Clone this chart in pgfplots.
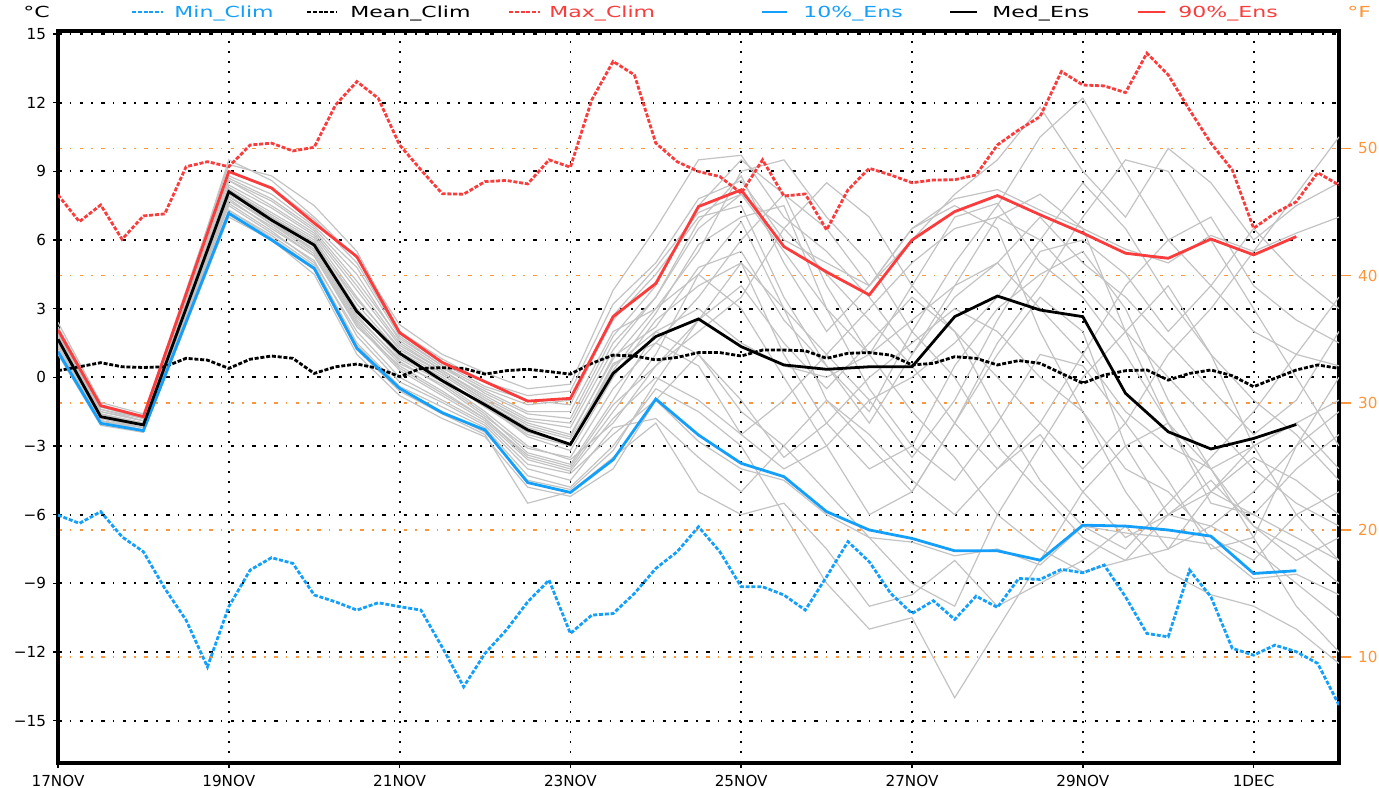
\documentclass[border=0pt]{standalone}
\usepackage{fontspec}
\setmainfont{DejaVu Sans}
\newfontfamily\legfont[FakeStretch=1.45]{DejaVu Sans}
\usepackage{pgfplots}
\pgfplotsset{compat=1.18}
\definecolor{cblue}{RGB}{20,160,250}
\definecolor{cred}{RGB}{250,60,60}
\definecolor{corange}{RGB}{250,150,60}
\definecolor{cgray}{RGB}{195,195,195}
\tikzset{
 ens/.style={cgray, line width=0.6pt},
 clim/.style={line width=1.4pt, dash pattern=on 2pt off 0.9pt},
 pct/.style={line width=1.4pt},
}
\begin{document}
\begin{tikzpicture}
% Fahrenheit axis (background: orange grid, right ticks)
\begin{axis}[at={(0pt,0pt)}, anchor=south west, scale only axis,
 width=640.5pt, height=366pt,
 xmin=0, xmax=15, ymin=1.666, ymax=59.234,
 axis x line=none, axis y line*=right, y axis line style={draw=none},
 ytick={10,20,30,40,50}, ymajorgrids,
 every axis y grid/.append style={corange, line width=0.8pt, dash pattern=on 1.8pt off 4pt on 0.8pt off 4.2pt},
 tick align=outside, major tick length=6pt,
 ytick style={corange, line width=0.8pt},
 yticklabel style={corange, font=\fontsize{7.6}{9}\selectfont},
 /pgf/number format/assume math mode=true,
]
\addplot[draw=none] coordinates {(0,30)};
\end{axis}
% Celsius axis with data
\begin{axis}[at={(0pt,0pt)}, anchor=south west, scale only axis,
 width=640.5pt, height=366pt,
 xmin=0, xmax=15, ymin=-16.85, ymax=15.13,
 axis line style={line width=1.6pt},
 xtick={0,2,...,14}, xticklabels={17NOV,19NOV,21NOV,23NOV,25NOV,27NOV,29NOV,1DEC},
 ytick={-15,-12,...,15}, yticklabels={−15,−12,−9,−6,−3,0,3,6,9,12,15},
 tick pos=left, tick align=outside, major tick length=2.5pt,
 tick style={black, line width=0.8pt},
 xmajorgrids, ymajorgrids,
 every axis x grid/.append style={black, line width=0.9pt, dash pattern=on 0.8pt off 4.2pt},
 every axis y grid/.append style={black, line width=0.9pt, dash pattern=on 1.8pt off 4pt on 0.8pt off 4.2pt},
 ticklabel style={font=\fontsize{7.6}{9}\selectfont},
]
% ensemble members
\addplot[ens] coordinates {(0,1.7)(0.5,-1.7)(1,-2.1)(1.5,3.0)(2,8.2)(2.5,7.0)(3,5.9)(3.5,3.0)(4,1.0)(4.5,0.0)(5,-1.3)(5.5,-2.5)(6,-3.0)(6.5,0.5)(7,2.0)(7.5,3.0)(8,1.5)(8.5,0.5)(9,0.0)(9.5,1.0)(10,2.5)(10.5,4.0)(11,5.0)(11.5,3.0)(12,1.0)(12.5,-1.5)(13,-3.0)(13.5,-4.0)(14,-3.0)(14.5,-2.0)(15,-1.0)};
\addplot[ens] coordinates {(0,2.2)(0.5,-1.2)(1,-1.7)(1.5,3.8)(2,9.3)(2.5,8.8)(3,7.5)(3.5,5.5)(4,2.0)(4.5,0.8)(5,-0.2)(5.5,-0.8)(6,-0.6)(6.5,3.2)(7,5.0)(7.5,7.8)(8,8.6)(8.5,6.0)(9,5.0)(9.5,4.0)(10,6.5)(10.5,7.8)(11,8.2)(11.5,7.3)(12,6.5)(12.5,5.6)(13,5.0)(13.5,6.2)(14,5.5)(14.5,6.3)(15,7.0)};
\addplot[ens] coordinates {(0,1.0)(0.5,-2.1)(1,-2.4)(1.5,2.3)(2,7.0)(2.5,6.0)(3,4.5)(3.5,1.0)(4,-0.8)(4.5,-1.8)(5,-2.6)(5.5,-4.8)(6,-5.2)(6.5,-4.0)(7,-1.0)(7.5,-2.8)(8,-4.0)(8.5,-4.5)(9,-6.0)(9.5,-7.0)(10,-7.2)(10.5,-7.8)(11,-7.5)(11.5,-8.2)(12,-6.5)(12.5,-6.8)(13,-7.0)(13.5,-7.3)(14,-8.8)(14.5,-8.6)(15,-9.5)};
\addplot[ens] coordinates {(0,1.5)(0.5,-1.9)(1,-2.2)(1.5,2.8)(2,7.8)(2.5,6.5)(3,5.3)(3.5,2.2)(4,0.5)(4.5,-0.6)(5,-1.8)(5.5,-3.5)(6,-4.0)(6.5,-1.5)(7,1.0)(7.5,4.5)(8,6.8)(8.5,3.0)(9,-1.0)(9.5,-3.0)(10,-5.0)(10.5,-2.0)(11,1.0)(11.5,3.5)(12,2.0)(12.5,-3.0)(13,-6.0)(13.5,-5.0)(14,-3.5)(14.5,-4.5)(15,-6.0)};
\addplot[ens] coordinates {(0,1.9)(0.5,-1.5)(1,-1.9)(1.5,3.3)(2,8.6)(2.5,7.5)(3,6.3)(3.5,4.0)(4,1.5)(4.5,0.3)(5,-0.8)(5.5,-1.8)(6,-2.0)(6.5,1.5)(7,3.5)(7.5,6.5)(8,8.0)(8.5,5.5)(9,3.0)(9.5,1.0)(10,4.0)(10.5,7.0)(11,7.6)(11.5,5.0)(12,3.5)(12.5,1.0)(13,-2.0)(13.5,-5.0)(14,-6.0)(14.5,-4.0)(15,-2.5)};
\addplot[ens] coordinates {(0,1.4)(0.5,-1.8)(1,-2.2)(1.5,2.9)(2,7.9)(2.5,6.8)(3,5.6)(3.5,2.6)(4,0.8)(4.5,-0.2)(5,-1.5)(5.5,-3.0)(6,-3.6)(6.5,-2.0)(7,0.5)(7.5,2.0)(8,3.5)(8.5,6.5)(9,8.5)(9.5,7.0)(10,4.0)(10.5,2.0)(11,0.0)(11.5,-2.0)(12,-4.0)(12.5,-2.0)(13,1.0)(13.5,3.0)(14,5.5)(14.5,8.0)(15,10.5)};
\addplot[ens] coordinates {(0,1.6)(0.5,-1.7)(1,-2.0)(1.5,3.1)(2,8.3)(2.5,7.2)(3,6.1)(3.5,3.5)(4,1.2)(4.5,0.2)(5,-1.0)(5.5,-2.0)(6,-2.5)(6.5,0.8)(7,3.0)(7.5,5.5)(8,9.0)(8.5,9.5)(9,7.0)(9.5,5.0)(10,2.0)(10.5,0.0)(11,-3.0)(11.5,-5.0)(12,-7.0)(12.5,-8.0)(13,-7.5)(13.5,-5.0)(14,-3.0)(14.5,-2.0)(15,-4.0)};
\addplot[ens] coordinates {(0,1.2)(0.5,-2.0)(1,-2.3)(1.5,2.5)(2,7.3)(2.5,6.2)(3,4.9)(3.5,1.5)(4,-0.4)(4.5,-1.3)(5,-2.2)(5.5,-4.3)(6,-4.8)(6.5,-3.0)(7,-0.5)(7.5,-1.5)(8,-3.0)(8.5,-6.0)(9,-9.0)(9.5,-11.0)(10,-10.5)(10.5,-14.0)(11,-11.0)(11.5,-8.0)(12,-5.0)(12.5,-3.0)(13,-2.0)(13.5,-4.0)(14,-7.0)(14.5,-10.0)(15,-12.0)};
\addplot[ens] coordinates {(0,2.0)(0.5,-1.4)(1,-1.8)(1.5,3.5)(2,8.8)(2.5,8.0)(3,6.6)(3.5,4.8)(4,1.8)(4.5,0.5)(5,-0.5)(5.5,-1.2)(6,-1.0)(6.5,2.5)(7,4.5)(7.5,7.0)(8,7.5)(8.5,3.5)(9,0.5)(9.5,-1.5)(10,2.0)(10.5,5.0)(11,7.5)(11.5,10.5)(12,12.2)(12.5,9.0)(13,6.0)(13.5,4.0)(14,2.0)(14.5,1.0)(15,0.5)};
\addplot[ens] coordinates {(0,1.7)(0.5,-1.6)(1,-2.1)(1.5,3.0)(2,8.0)(2.5,6.9)(3,5.7)(3.5,2.9)(4,0.9)(4.5,-0.1)(5,-1.2)(5.5,-2.6)(6,-3.2)(6.5,0.0)(7,2.5)(7.5,4.0)(8,5.0)(8.5,1.0)(9,-2.0)(9.5,-4.0)(10,-3.0)(10.5,0.5)(11,3.0)(11.5,4.5)(12,5.5)(12.5,3.0)(13,-1.0)(13.5,-4.0)(14,-6.5)(14.5,-7.5)(15,-9.0)};
\addplot[ens] coordinates {(0,1.3)(0.5,-1.9)(1,-2.3)(1.5,2.7)(2,7.6)(2.5,6.4)(3,5.0)(3.5,2.0)(4,0.0)(4.5,-1.0)(5,-2.0)(5.5,-3.8)(6,-4.2)(6.5,-2.5)(7,-1.0)(7.5,1.0)(8,-1.0)(8.5,-3.5)(9,-2.0)(9.5,0.0)(10,1.5)(10.5,3.0)(11,2.0)(11.5,0.0)(12,-1.5)(12.5,-4.0)(13,-5.0)(13.5,-7.0)(14,-8.0)(14.5,-6.0)(15,-5.0)};
\addplot[ens] coordinates {(0,1.8)(0.5,-1.6)(1,-2.0)(1.5,3.2)(2,8.4)(2.5,7.4)(3,6.2)(3.5,3.8)(4,1.4)(4.5,0.3)(5,-0.9)(5.5,-1.9)(6,-2.2)(6.5,1.2)(7,3.5)(7.5,6.8)(8,8.8)(8.5,5.0)(9,2.0)(9.5,4.0)(10,6.0)(10.5,8.0)(11,9.5)(11.5,11.8)(12,9.0)(12.5,7.0)(13,10.0)(13.5,8.5)(14,6.0)(14.5,7.5)(15,8.5)};
\addplot[ens] coordinates {(0,1.6)(0.5,-1.8)(1,-2.1)(1.5,2.9)(2,8.1)(2.5,6.8)(3,5.5)(3.5,2.5)(4,0.6)(4.5,-0.3)(5,-1.6)(5.5,-3.3)(6,-3.8)(6.5,-1.0)(7,2.0)(7.5,1.0)(8,-1.5)(8.5,-3.0)(9,-5.0)(9.5,-7.0)(10,-9.0)(10.5,-10.0)(11,-6.0)(11.5,-3.0)(12,0.0)(12.5,2.0)(13,4.0)(13.5,1.0)(14,-3.0)(14.5,-6.0)(15,-8.0)};
\addplot[ens] coordinates {(0,1.9)(0.5,-1.5)(1,-1.9)(1.5,3.4)(2,8.7)(2.5,7.8)(3,6.5)(3.5,4.5)(4,1.6)(4.5,0.4)(5,-0.6)(5.5,-1.5)(6,-1.5)(6.5,2.0)(7,3.0)(7.5,4.5)(8,3.0)(8.5,0.0)(9,-3.0)(9.5,-6.0)(10,-5.0)(10.5,-2.0)(11,1.5)(11.5,4.0)(12,7.0)(12.5,9.5)(13,9.0)(13.5,6.0)(14,3.0)(14.5,0.0)(15,-3.0)};
\addplot[ens] coordinates {(0,1.4)(0.5,-1.9)(1,-2.2)(1.5,2.7)(2,7.7)(2.5,6.6)(3,5.3)(3.5,2.3)(4,0.3)(4.5,-0.8)(5,-1.9)(5.5,-3.6)(6,-4.1)(6.5,-1.8)(7,0.0)(7.5,-1.0)(8,-2.5)(8.5,-1.0)(9,1.0)(9.5,3.0)(10,5.0)(10.5,6.5)(11,7.0)(11.5,6.0)(12,4.0)(12.5,2.0)(13,0.0)(13.5,-2.0)(14,-4.0)(14.5,-5.5)(15,-6.5)};
\addplot[ens] coordinates {(0,2.4)(0.5,-1.1)(1,-1.6)(1.5,3.6)(2,9.5)(2.5,8.6)(3,7.0)(3.5,5.2)(4,2.3)(4.5,1.0)(5,0.2)(5.5,-0.5)(6,-0.3)(6.5,3.8)(7,6.5)(7.5,9.5)(8,9.7)(8.5,7.0)(9,5.5)(9.5,3.5)(10,1.0)(10.5,4.0)(11,7.0)(11.5,8.0)(12,6.5)(12.5,2.0)(13,-2.0)(13.5,-5.5)(14,-6.0)(14.5,-7.0)(15,-8.0)};
\addplot[ens] coordinates {(0,1.5)(0.5,-1.8)(1,-2.2)(1.5,2.8)(2,7.9)(2.5,6.7)(3,5.6)(3.5,2.7)(4,0.7)(4.5,-0.4)(5,-1.7)(5.5,-3.1)(6,-3.5)(6.5,-0.5)(7,1.5)(7.5,3.5)(8,6.0)(8.5,8.0)(9,6.5)(9.5,4.0)(10,6.5)(10.5,7.5)(11,6.5)(11.5,2.0)(12,-1.5)(12.5,-5.0)(13,-7.5)(13.5,-6.5)(14,-5.0)(14.5,-3.0)(15,-1.5)};
\addplot[ens] coordinates {(0,1.1)(0.5,-2.0)(1,-2.4)(1.5,2.4)(2,7.1)(2.5,6.0)(3,4.7)(3.5,1.2)(4,-0.6)(4.5,-1.6)(5,-2.5)(5.5,-5.5)(6,-5.0)(6.5,-3.5)(7,-2.0)(7.5,-5.0)(8,-6.0)(8.5,-5.5)(9,-7.5)(9.5,-10.0)(10,-9.5)(10.5,-8.0)(11,-10.0)(11.5,-9.0)(12,-8.0)(12.5,-6.5)(13,-8.5)(13.5,-9.5)(14,-10.0)(14.5,-11.0)(15,-12.5)};
\addplot[ens] coordinates {(0,1.8)(0.5,-1.7)(1,-2.0)(1.5,3.1)(2,8.2)(2.5,7.1)(3,6.0)(3.5,3.2)(4,1.1)(4.5,0.1)(5,-1.1)(5.5,-2.2)(6,-2.7)(6.5,0.3)(7,2.8)(7.5,5.8)(8,7.0)(8.5,7.5)(9,3.0)(9.5,-0.5)(10,-3.0)(10.5,-4.5)(11,-2.0)(11.5,1.0)(12,0.5)(12.5,-2.0)(13,-4.5)(13.5,-7.5)(14,-7.0)(14.5,-3.0)(15,0.0)};
\addplot[ens] coordinates {(0,1.6)(0.5,-1.7)(1,-2.1)(1.5,3.0)(2,8.1)(2.5,7.0)(3,5.8)(3.5,3.0)(4,0.9)(4.5,-0.1)(5,-1.3)(5.5,-2.4)(6,-2.9)(6.5,0.6)(7,1.5)(7.5,0.5)(8,-2.5)(8.5,-4.0)(9,-3.0)(9.5,-1.0)(10,0.0)(10.5,1.5)(11,3.5)(11.5,6.0)(12,8.5)(12.5,6.5)(13,3.5)(13.5,1.0)(14,-1.0)(14.5,-2.5)(15,-4.5)};
\addplot[ens] coordinates {(0,2.1)(0.5,-1.3)(1,-1.8)(1.5,3.7)(2,9.0)(2.5,8.3)(3,6.9)(3.5,5.0)(4,1.9)(4.5,0.6)(5,-0.4)(5.5,-1.0)(6,-1.2)(6.5,2.7)(7,4.8)(7.5,7.2)(8,8.0)(8.5,6.5)(9,4.5)(9.5,2.5)(10,0.5)(10.5,-2.0)(11,-4.0)(11.5,-2.0)(12,1.0)(12.5,4.0)(13,6.0)(13.5,7.0)(14,4.0)(14.5,2.5)(15,1.5)};
\addplot[ens] coordinates {(0,1.3)(0.5,-1.9)(1,-2.3)(1.5,2.6)(2,7.5)(2.5,6.3)(3,5.1)(3.5,1.8)(4,-0.2)(4.5,-1.1)(5,-2.1)(5.5,-4.0)(6,-4.5)(6.5,-2.2)(7,-1.8)(7.5,-3.5)(8,-5.0)(8.5,-3.0)(9,-1.0)(9.5,-2.5)(10,-4.5)(10.5,-6.0)(11,-4.0)(11.5,-2.5)(12,-5.0)(12.5,-7.0)(13,-6.0)(13.5,-4.5)(14,-6.5)(14.5,-8.0)(15,-7.0)};
\addplot[ens] coordinates {(0,1.7)(0.5,-1.6)(1,-2.0)(1.5,3.0)(2,8.0)(2.5,7.0)(3,5.9)(3.5,3.4)(4,1.3)(4.5,0.2)(5,-1.0)(5.5,-2.1)(6,-2.6)(6.5,0.9)(7,2.2)(7.5,4.8)(8,5.5)(8.5,2.5)(9,0.5)(9.5,-2.0)(10,1.0)(10.5,3.5)(11,5.0)(11.5,7.0)(12,5.0)(12.5,3.5)(13,1.5)(13.5,-0.5)(14,-2.5)(14.5,-1.0)(15,2.0)};
\addplot[ens] coordinates {(0,1.5)(0.5,-1.8)(1,-2.1)(1.5,2.9)(2,7.9)(2.5,6.7)(3,5.4)(3.5,2.4)(4,0.4)(4.5,-0.7)(5,-1.8)(5.5,-3.4)(6,-3.9)(6.5,-1.2)(7,0.5)(7.5,2.5)(8,4.0)(8.5,1.5)(9,-0.5)(9.5,1.5)(10,3.5)(10.5,2.0)(11,-1.5)(11.5,-4.5)(12,-6.5)(12.5,-7.5)(13,-5.5)(13.5,-3.5)(14,-1.5)(14.5,1.0)(15,3.5)};
\addplot[ens] coordinates {(0,1.9)(0.5,-1.4)(1,-1.9)(1.5,3.4)(2,8.6)(2.5,7.7)(3,6.4)(3.5,4.2)(4,1.7)(4.5,0.5)(5,-0.7)(5.5,-1.6)(6,-1.8)(6.5,1.8)(7,4.0)(7.5,7.5)(8,9.5)(8.5,8.0)(9,4.0)(9.5,1.0)(10,-1.5)(10.5,-3.5)(11,-6.0)(11.5,-7.5)(12,-8.5)(12.5,-8.0)(13,-6.0)(13.5,-6.5)(14,-7.5)(14.5,-9.0)(15,-10.5)};
\addplot[ens] coordinates {(0,1.2)(0.5,-2.0)(1,-2.3)(1.5,2.5)(2,7.3)(2.5,6.1)(3,4.8)(3.5,1.4)(4,-0.5)(4.5,-1.5)(5,-2.4)(5.5,-4.5)(6,-4.9)(6.5,-3.2)(7,-0.2)(7.5,2.5)(8,5.0)(8.5,3.0)(9,1.0)(9.5,-1.0)(10,-3.5)(10.5,-1.0)(11,2.5)(11.5,5.5)(12,6.0)(12.5,4.5)(13,2.0)(13.5,4.0)(14,6.5)(14.5,4.5)(15,3.0)};
% climatology (6-hourly)
\addplot[cred, clim] coordinates {(0,7.97)(0.25,6.8)(0.5,7.53)(0.75,6.03)(1,7.05)(1.25,7.14)(1.5,9.2)(1.75,9.42)(2,9.2)(2.25,10.15)(2.5,10.23)(2.75,9.89)(3,10.05)(3.25,11.9)(3.5,12.92)(3.75,12.19)(4,10.15)(4.25,9.06)(4.5,8.02)(4.75,8.0)(5,8.55)(5.25,8.6)(5.5,8.45)(5.75,9.5)(6,9.18)(6.25,12.12)(6.5,13.8)(6.75,13.21)(7,10.23)(7.25,9.42)(7.5,8.99)(7.75,8.77)(8,8.04)(8.25,9.5)(8.5,7.92)(8.75,8.01)(9,6.44)(9.25,8.19)(9.5,9.13)(9.75,8.84)(10,8.5)(10.25,8.62)(10.5,8.63)(10.75,8.84)(11,10.15)(11.25,10.81)(11.5,11.39)(11.75,13.36)(12,12.77)(12.25,12.73)(12.5,12.44)(12.75,14.16)(13,13.21)(13.25,11.68)(13.5,10.23)(13.75,9.06)(14,6.51)(14.25,7.17)(14.5,7.67)(14.75,8.94)(15,8.4)};
\addplot[black, clim] coordinates {(0,0.29)(0.25,0.46)(0.5,0.64)(0.75,0.46)(1,0.43)(1.25,0.46)(1.5,0.83)(1.75,0.75)(2,0.39)(2.25,0.79)(2.5,0.93)(2.75,0.83)(3,0.17)(3.25,0.46)(3.5,0.58)(3.75,0.39)(4,0.03)(4.25,0.39)(4.5,0.42)(4.75,0.39)(5,0.14)(5.25,0.29)(5.5,0.35)(5.75,0.25)(6,0.14)(6.25,0.61)(6.5,0.97)(6.75,0.93)(7,0.76)(7.25,0.87)(7.5,1.08)(7.75,1.08)(8,0.93)(8.25,1.19)(8.5,1.19)(8.75,1.16)(9,0.83)(9.25,1.05)(9.5,1.08)(9.75,0.97)(10,0.54)(10.25,0.61)(10.5,0.9)(10.75,0.83)(11,0.54)(11.25,0.73)(11.5,0.61)(11.75,0.17)(12,-0.26)(12.25,0.1)(12.5,0.29)(12.75,0.32)(13,-0.12)(13.25,0.17)(13.5,0.32)(13.75,0.07)(14,-0.41)(14.25,-0.04)(14.5,0.32)(14.75,0.54)(15,0.39)};
\addplot[cblue, clim] coordinates {(0,-6.02)(0.25,-6.38)(0.5,-5.87)(0.75,-6.97)(1,-7.62)(1.25,-9.22)(1.5,-10.61)(1.75,-12.65)(2,-10.02)(2.25,-8.42)(2.5,-7.88)(2.75,-8.13)(3,-9.51)(3.25,-9.81)(3.5,-10.17)(3.75,-9.85)(4,-10.02)(4.25,-10.17)(4.5,-11.8)(4.75,-13.52)(5,-12.06)(5.25,-11.04)(5.5,-9.81)(5.75,-8.86)(6,-11.19)(6.25,-10.39)(6.5,-10.32)(6.75,-9.44)(7,-8.35)(7.25,-7.62)(7.5,-6.53)(7.75,-7.62)(8,-9.15)(8.25,-9.15)(8.5,-9.51)(8.75,-10.17)(9,-8.71)(9.25,-7.18)(9.5,-8.06)(9.75,-9.44)(10,-10.32)(10.25,-9.76)(10.5,-10.58)(10.75,-9.56)(11,-10.05)(11.25,-8.79)(11.5,-8.83)(11.75,-8.39)(12,-8.54)(12.25,-8.2)(12.5,-9.59)(12.75,-11.19)(13,-11.34)(13.25,-8.42)(13.5,-9.59)(13.75,-11.84)(14,-12.14)(14.25,-11.7)(14.5,-11.99)(14.75,-12.5)(15,-14.32)};
% ensemble percentiles (12-hourly)
\addplot[cblue, pct] coordinates {(0,1.12)(0.5,-2.01)(1,-2.33)(2,7.17)(2.5,6.0)(3,4.76)(3.5,1.27)(4,-0.48)(4.5,-1.55)(5,-2.3)(5.5,-4.6)(6,-5.03)(6.5,-3.6)(7,-0.95)(7.5,-2.52)(8,-3.76)(8.5,-4.34)(9,-5.87)(9.5,-6.67)(10,-7.04)(10.5,-7.58)(11,-7.58)(11.5,-7.99)(12,-6.46)(12.5,-6.5)(13,-6.67)(13.5,-6.94)(14,-8.57)(14.5,-8.45)};
\addplot[black, pct] coordinates {(0,1.66)(0.5,-1.72)(1,-2.08)(2,8.11)(2.5,6.87)(3,5.78)(3.5,2.87)(4,1.05)(4.5,-0.15)(5,-1.2)(5.5,-2.3)(6,-2.93)(6.5,0.17)(7,1.78)(7.5,2.55)(8,1.34)(8.5,0.54)(9,0.35)(9.5,0.46)(10,0.46)(10.5,2.65)(11,3.55)(11.5,2.94)(12,2.65)(12.5,-0.7)(13,-2.38)(13.5,-3.13)(14,-2.67)(14.5,-2.06)};
\addplot[cred, pct] coordinates {(0,2.07)(0.5,-1.24)(1,-1.72)(2,8.99)(2.5,8.27)(3,6.74)(3.5,5.27)(4,1.95)(4.5,0.65)(5,-0.19)(5.5,-1.04)(6,-0.92)(6.5,2.65)(7,4.1)(7.5,7.46)(8,8.19)(8.5,5.71)(9,4.6)(9.5,3.6)(10,6.0)(10.5,7.24)(11,7.94)(11.5,7.1)(12,6.3)(12.5,5.42)(13,5.2)(13.5,6.04)(14,5.35)(14.5,6.15)};
\end{axis}
% header: units and legend
\begin{scope}[every node/.style={inner sep=0pt, anchor=base west, font=\legfont\fontsize{7.6}{9}\selectfont}]
\node at (-17.5pt,372.5pt) {°C};
\draw[cblue, clim] (37pt,375.5pt) -- (52.5pt,375.5pt);
\node[text=cblue] at (58pt,372.5pt) {Min\_Clim};
\draw[black, clim] (124.5pt,375.5pt) -- (139.5pt,375.5pt);
\node at (146pt,372.5pt) {Mean\_Clim};
\draw[cred, clim] (225.5pt,375.5pt) -- (241pt,375.5pt);
\node[text=cred] at (245.5pt,372.5pt) {Max\_Clim};
\draw[cblue, pct] (352pt,375.5pt) -- (364.5pt,375.5pt);
\node[text=cblue] at (372.5pt,372.5pt) {10\%\_Ens};
\draw[black, pct] (446pt,375.5pt) -- (459.5pt,375.5pt);
\node at (467pt,372.5pt) {Med\_Ens};
\draw[cred, pct] (540pt,375.5pt) -- (553.5pt,375.5pt);
\node[text=cred] at (560pt,372.5pt) {90\%\_Ens};
\node[text=corange] at (644.5pt,372.5pt) {°F};
\end{scope}
\pgfresetboundingbox
\path (-29pt,-12pt) rectangle (660.5pt,381.5pt);
\end{tikzpicture}
\end{document}
